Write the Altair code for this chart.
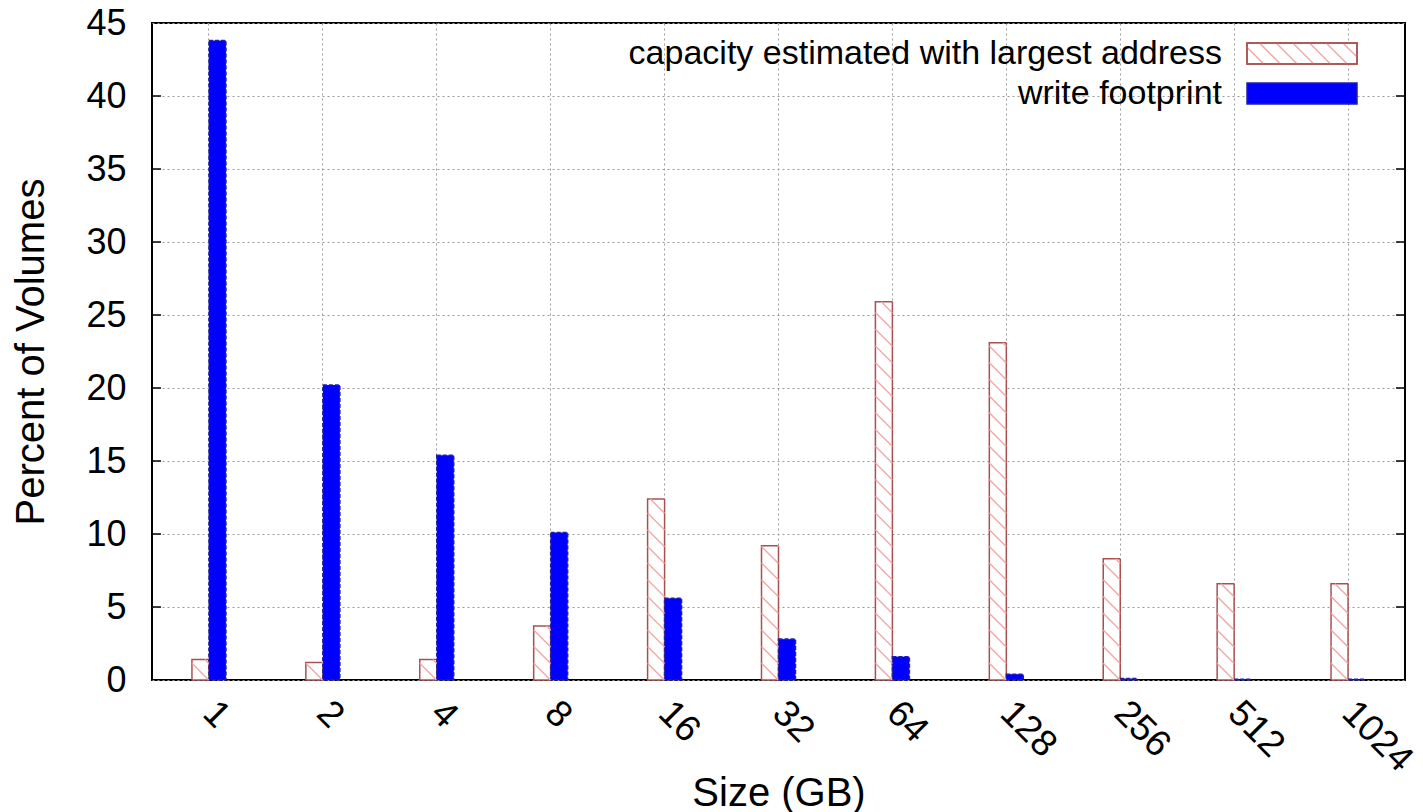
import altair as alt
import pandas as pd

sizes = ["1", "2", "4", "8", "16", "32", "64", "128", "256", "512", "1024"]
capacity = [1.4, 1.2, 1.4, 3.7, 12.4, 9.2, 25.9, 23.1, 8.3, 6.6, 6.6]
footprint = [43.8, 20.2, 15.4, 10.1, 5.6, 2.8, 1.6, 0.4, 0.1, 0.05, 0.05]
series = ["capacity estimated with largest address", "write footprint"]
y_ticks = [0, 5, 10, 15, 20, 25, 30, 35, 40, 45]

rows = []
for s, c, f in zip(sizes, capacity, footprint):
    rows.append({"size": s, "series": series[0], "value": c})
    rows.append({"size": s, "series": series[1], "value": f})
df = pd.DataFrame(rows)

W, H = 1253, 657
YMAX = 45
FONT = "Liberation Sans"
STEP = W / len(sizes)
BAR = 17
HATCH_SP = 16.7
PXU = H / YMAX

RED_EDGE = "#a85050"
HATCH = "#f4a6a6"


def hatch_lines(wpx, hpx, sp):
    """45-degree '\\' hatch segments inside a wpx x hpx box (pixel units, y up)."""
    out = []
    k = 1
    while k * sp < hpx + wpx:
        c = k * sp
        u1 = max(0.0, c - hpx)
        u2 = min(wpx, c)
        if u2 > u1:
            out.append((u1, c - u1, u2, c - u2))
        k += 1
    return out


# hatch for the capacity bars, expressed in data units (category index, percent)
hrows = []
for i, v in enumerate(capacity):
    for u1, w1, u2, w2 in hatch_lines(BAR, v * PXU, HATCH_SP):
        hrows.append({
            "x": i - BAR / STEP + u1 / STEP, "x2": i - BAR / STEP + u2 / STEP,
            "y": w1 / PXU, "y2": w2 / PXU,
        })
hatch_df = pd.DataFrame(hrows)

fill_scale = alt.Scale(domain=series, range=["#ffffff", "#0000ff"])
stroke_scale = alt.Scale(domain=series, range=[RED_EDGE, "#2020a0"])
dash_scale = alt.Scale(domain=series, range=[[1, 0], [4, 2]])

y_scale = alt.Scale(domain=[0, YMAX], nice=False, zero=True)

bars = alt.Chart(df).mark_bar(strokeWidth=1.5).encode(
    x=alt.X(
        "size:N", sort=sizes,
        scale=alt.Scale(paddingInner=0, paddingOuter=0),
        axis=alt.Axis(
            title="Size (GB)", labelAngle=45, labelAlign="left",
            labelBaseline="middle", bandPosition=0.5, grid=True,
            ticks=False, tickSize=0, domain=False, labelPadding=27,
            labelFontSize=37, titleFontSize=40, titleY=125,
            titleBaseline="alphabetic", titleFontWeight="normal",
        ),
    ),
    xOffset=alt.XOffset(
        "series:N", sort=series,
        scale=alt.Scale(paddingInner=0, paddingOuter=0,
                        range=[STEP / 2 - BAR, STEP / 2 + BAR]),
    ),
    y=alt.Y(
        "value:Q", scale=y_scale,
        axis=alt.Axis(
            values=y_ticks, title="Percent of Volumes", ticks=False,
            tickSize=0, domain=False, labelPadding=26, labelFontSize=36,
            titleFontSize=40, titleX=-109, titleY=H / 2,
            titleBaseline="alphabetic", titleFontWeight="normal", grid=True,
        ),
    ),
    fill=alt.Fill("series:N", scale=fill_scale, legend=None),
    stroke=alt.Stroke("series:N", scale=stroke_scale, legend=None),
    strokeDash=alt.StrokeDash("series:N", scale=dash_scale, legend=None),
)

hatch = alt.Chart(hatch_df).mark_rule(color=HATCH, strokeWidth=1.4).encode(
    x=alt.X("x:Q", scale=alt.Scale(domain=[-0.5, len(sizes) - 0.5], nice=False, zero=False), axis=None),
    x2="x2:Q",
    y=alt.Y("y:Q", scale=y_scale),
    y2="y2:Q",
)

tick_df = pd.DataFrame({"value": y_ticks[1:-1]})
left_ticks = alt.Chart(tick_df).mark_rule(color="black", strokeWidth=1.5).encode(
    y=alt.Y("value:Q", scale=y_scale), x=alt.value(0), x2=alt.value(9)
)
right_ticks = alt.Chart(tick_df).mark_rule(color="black", strokeWidth=1.5).encode(
    y=alt.Y("value:Q", scale=y_scale), x=alt.value(W - 9), x2=alt.value(W)
)

main = alt.layer(bars, hatch, left_ticks, right_ticks).resolve_scale(x="independent")

# legend (symbols to the right of right-aligned labels, as in the original)
LX0, LX1 = 1095, 1205
LY0, LY1 = 20, 81
leg_df = pd.DataFrame({"series": series})
leg_scale = alt.Scale(domain=series, range=[LY0, LY1], paddingInner=0.475, paddingOuter=0)
leg_rect = alt.Chart(leg_df).mark_rect(strokeWidth=1.5).encode(
    x=alt.value(LX0), x2=alt.value(LX1),
    y=alt.Y("series:N", sort=series, scale=leg_scale, axis=None),
    fill=alt.Fill("series:N", scale=fill_scale, legend=None),
    stroke=alt.Stroke("series:N", scale=stroke_scale, legend=None),
    strokeDash=alt.StrokeDash("series:N", scale=dash_scale, legend=None),
)
leg_text = alt.Chart(leg_df).mark_text(
    align="right", baseline="middle", fontSize=34, font=FONT, color="black"
).encode(
    x=alt.value(1070),
    y=alt.Y("series:N", sort=series, scale=leg_scale, axis=None, bandPosition=0.5),
    text="series:N",
)
legend = alt.layer(leg_rect, leg_text)

LBW = LX1 - LX0
LBH = 21
lh_df = pd.DataFrame(
    [{"x": a, "y": b, "x2": c, "y2": d} for a, b, c, d in hatch_lines(LBW, LBH, HATCH_SP)]
)
leg_hatch = alt.Chart(lh_df).mark_rule(color=HATCH, strokeWidth=1.4).encode(
    x=alt.X("x:Q", scale=alt.Scale(domain=[0, LBW], range=[LX0, LX1], nice=False, zero=False), axis=None),
    x2="x2:Q",
    y=alt.Y("y:Q", scale=alt.Scale(domain=[0, LBH], range=[LY0 + LBH, LY0], nice=False, zero=False), axis=None),
    y2="y2:Q",
)
leg_frame = alt.Chart(leg_df.iloc[:1]).mark_rect(
    fill=None, stroke=RED_EDGE, strokeWidth=1.5
).encode(
    x=alt.value(LX0), x2=alt.value(LX1), y=alt.value(LY0), y2=alt.value(LY0 + LBH)
)

chart = alt.layer(
    main, legend, leg_hatch, leg_frame
).resolve_scale(x="independent", y="independent").properties(
    width=W, height=H,
    autosize=alt.AutoSizeParams(type="none"),
    padding={"left": 152, "top": 23, "right": 18, "bottom": 132},
    background="white",
).configure_view(
    stroke="black", strokeWidth=2
).configure_axis(
    labelFont=FONT, titleFont=FONT, labelColor="black", titleColor="black",
    gridColor="#9a9a9a", gridDash=[2, 3], gridWidth=1, gridOpacity=1,
)

chart.save("out.html", embed_options={"renderer": "svg", "actions": False})
